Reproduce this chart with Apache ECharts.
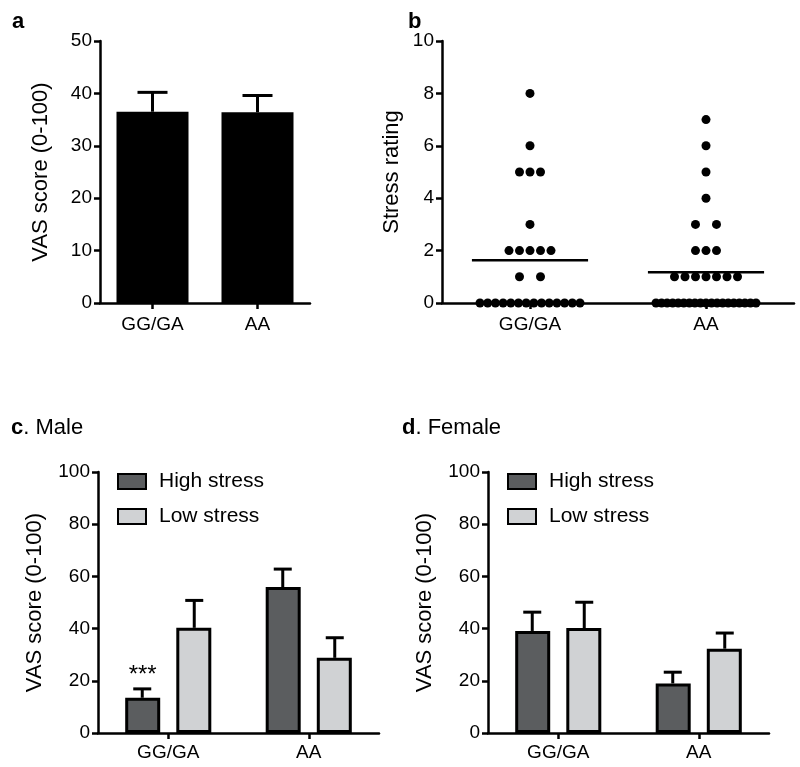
<!DOCTYPE html>
<html><head><meta charset="utf-8">
<script src="https://cdn.jsdelivr.net/npm/echarts@6/dist/echarts.min.js"></script>
<style>html,body{margin:0;padding:0;background:#fff}#c{width:800px;height:767px}</style>
</head><body><div id="c"></div>
<script>
// ---- data ----
const categories = ['GG/GA', 'AA'];
const aMeans = [36.5, 36.4];
const aSem = [3.7, 3.2];
const bGGGA = [8,6,5,5,5,3,2,2,2,2,2,1,1,0,0,0,0,0,0,0,0,0,0,0,0,0,0];
const bAA = [7,6,5,4,3,3,2,2,2,1,1,1,1,1,1,1,0,0,0,0,0,0,0,0,0,0,0,0,0,0,0,0,0,0,0];
const maleHigh = [13.5, 55.9];
const maleHighSem = [3.4, 6.9];
const maleLow = [40.3, 28.8];
const maleLowSem = [10.5, 7.7];
const femaleHigh = [39.1, 19.0];
const femaleHighSem = [7.2, 4.3];
const femaleLow = [40.2, 32.3];
const femaleLowSem = [9.9, 6.0];
const aTicks = [0, 10, 20, 30, 40, 50];
const bTicks = [0, 2, 4, 6, 8, 10];
const cdTicks = [0, 20, 40, 60, 80, 100];

const FONT = 'Liberation Sans, Arial, sans-serif';
const DARK = '#5b5d5f', LIGHT = '#d0d2d4';
const chart = echarts.init(document.getElementById('c'));

function yAxis(grid, ticks, name, gap) {
  return {
    type: 'value', gridIndex: grid, min: ticks[0], max: ticks[ticks.length - 1],
    interval: ticks[1] - ticks[0], name: name, nameLocation: 'middle', nameGap: gap,
    nameTextStyle: { fontFamily: FONT, fontSize: 22, color: '#000' },
    axisLine: { show: true, lineStyle: { color: '#000', width: 2.5 } },
    axisTick: { show: true, length: 6, lineStyle: { color: '#000', width: 2.5 } },
    axisLabel: { fontFamily: FONT, fontSize: 19, color: '#000', margin: 8 },
    splitLine: { show: false }
  };
}
function xCat(grid, margin) {
  return {
    type: 'category', gridIndex: grid, data: categories,
    axisLine: { lineStyle: { color: '#000', width: 2.5 } },
    axisTick: { show: true, alignWithLabel: true, length: 6, lineStyle: { color: '#000', width: 2.5 } },
    axisLabel: { fontFamily: FONT, fontSize: 19, color: '#000', margin: margin }
  };
}
function errSeries(xi, yi, means, sems, offset, cap) {
  return {
    type: 'custom', xAxisIndex: xi, yAxisIndex: yi, z: 5,
    data: means.map((m, i) => [i, m, m + sems[i]]),
    renderItem: function (params, api) {
      const p0 = api.coord([api.value(0), api.value(1)]);
      const p1 = api.coord([api.value(0), api.value(2)]);
      const x = p0[0] + offset;
      const st = { stroke: '#000', lineWidth: 3 };
      return { type: 'group', children: [
        { type: 'line', shape: { x1: x, y1: p0[1], x2: x, y2: p1[1] }, style: st },
        { type: 'line', shape: { x1: x - cap / 2, y1: p1[1], x2: x + cap / 2, y2: p1[1] }, style: st }
      ] };
    }
  };
}
// beeswarm layout for panel b: spread points of equal value around category centre
function swarm(values, centre) {
  const pxPerUnit = 176;
  const counts = {};
  values.forEach(v => counts[v] = (counts[v] || 0) + 1);
  const idx = {};
  return values.map(v => {
    const n = counts[v];
    const i = idx[v] = (idx[v] === undefined ? 0 : idx[v] + 1);
    let s = Math.min(10.5, 100 / Math.max(1, n - 1)) / pxPerUnit;
    let off = (i - (n - 1) / 2) * s;
    if (n === 2) off *= 2;
    return [centre + off, v];
  });
}
const meanOf = a => a.reduce((s, v) => s + v, 0) / a.length;

const barBorder = { borderColor: '#000', borderWidth: 3 };
const panelTitle = (letter, rest, left, top) => ({
  text: '{b|' + letter + '}' + rest, left: left, top: top,
  textStyle: { fontFamily: FONT, fontSize: 22, fontWeight: 'normal', color: '#000',
    rich: { b: { fontFamily: FONT, fontSize: 22, fontWeight: 'bold', color: '#000' } } }
});
const legendBase = { data: ['High stress', 'Low stress'], orient: 'vertical', top: 471, padding: 0,
  itemWidth: 28, itemHeight: 15, itemGap: 14, icon: 'rect', selectedMode: false,
  textStyle: { fontFamily: FONT, fontSize: 21, color: '#000', padding: [0, 0, 0, 8] } };

const option = {
  animation: false,
  textStyle: { fontFamily: FONT },
  title: [
    panelTitle('a', '', 7, 6),
    panelTitle('b', '', 403, 6),
    panelTitle('c', '. Male', 6, 412),
    panelTitle('d', '. Female', 397, 412)
  ],
  legend: [
    Object.assign({}, legendBase, { left: 117 }),
    Object.assign({}, legendBase, { left: 507 })
  ],
  grid: [
    { left: 100, top: 41, width: 210, height: 262 },
    { left: 442, top: 41, width: 352, height: 262 },
    { left: 98, top: 472, width: 281, height: 261 },
    { left: 488, top: 472, width: 281, height: 261 }
  ],
  xAxis: [
    xCat(0, 12),
    xCat(1, 12),
    xCat(2, 10),
    xCat(3, 10),
    { type: 'value', gridIndex: 1, min: 0, max: 2, show: false }
  ],
  yAxis: [
    yAxis(0, aTicks, 'VAS score (0-100)', 48),
    yAxis(1, bTicks, 'Stress rating', 39),
    yAxis(2, cdTicks, 'VAS score (0-100)', 52),
    yAxis(3, cdTicks, 'VAS score (0-100)', 52)
  ],
  series: [
    { type: 'bar', xAxisIndex: 0, yAxisIndex: 0, data: aMeans, barWidth: 72, itemStyle: { color: '#000' } },
    errSeries(0, 0, aMeans, aSem, 0, 30),

    { type: 'scatter', xAxisIndex: 4, yAxisIndex: 1, data: swarm(bGGGA, 0.5), symbolSize: 9, itemStyle: { color: '#000', opacity: 1 } },
    { type: 'scatter', xAxisIndex: 4, yAxisIndex: 1, data: swarm(bAA, 1.5), symbolSize: 9, itemStyle: { color: '#000', opacity: 1 } },
    { type: 'line', xAxisIndex: 4, yAxisIndex: 1, data: [[0.5 - 0.33, meanOf(bGGGA)], [0.5 + 0.33, meanOf(bGGGA)]], symbol: 'none', lineStyle: { color: '#000', width: 2.5 } },
    { type: 'line', xAxisIndex: 4, yAxisIndex: 1, data: [[1.5 - 0.33, meanOf(bAA)], [1.5 + 0.33, meanOf(bAA)]], symbol: 'none', lineStyle: { color: '#000', width: 2.5 } },

    { name: 'High stress', type: 'bar', xAxisIndex: 2, yAxisIndex: 2, data: maleHigh, barWidth: 35, barGap: '46%', itemStyle: Object.assign({ color: DARK }, barBorder),
      label: { show: true, position: 'top', distance: 10, formatter: p => p.dataIndex === 0 ? '***' : '', fontFamily: FONT, fontSize: 24, color: '#000' } },
    { name: 'Low stress', type: 'bar', xAxisIndex: 2, yAxisIndex: 2, data: maleLow, barWidth: 35, barGap: '46%', itemStyle: Object.assign({ color: LIGHT }, barBorder) },
    errSeries(2, 2, maleHigh, maleHighSem, -26, 18),
    errSeries(2, 2, maleLow, maleLowSem, 26, 18),

    { name: 'High stress', type: 'bar', xAxisIndex: 3, yAxisIndex: 3, data: femaleHigh, barWidth: 35, barGap: '46%', itemStyle: Object.assign({ color: DARK }, barBorder) },
    { name: 'Low stress', type: 'bar', xAxisIndex: 3, yAxisIndex: 3, data: femaleLow, barWidth: 35, barGap: '46%', itemStyle: Object.assign({ color: LIGHT }, barBorder) },
    errSeries(3, 3, femaleHigh, femaleHighSem, -26, 18),
    errSeries(3, 3, femaleLow, femaleLowSem, 26, 18)
  ]
};
chart.setOption(option);
</script></body></html>
